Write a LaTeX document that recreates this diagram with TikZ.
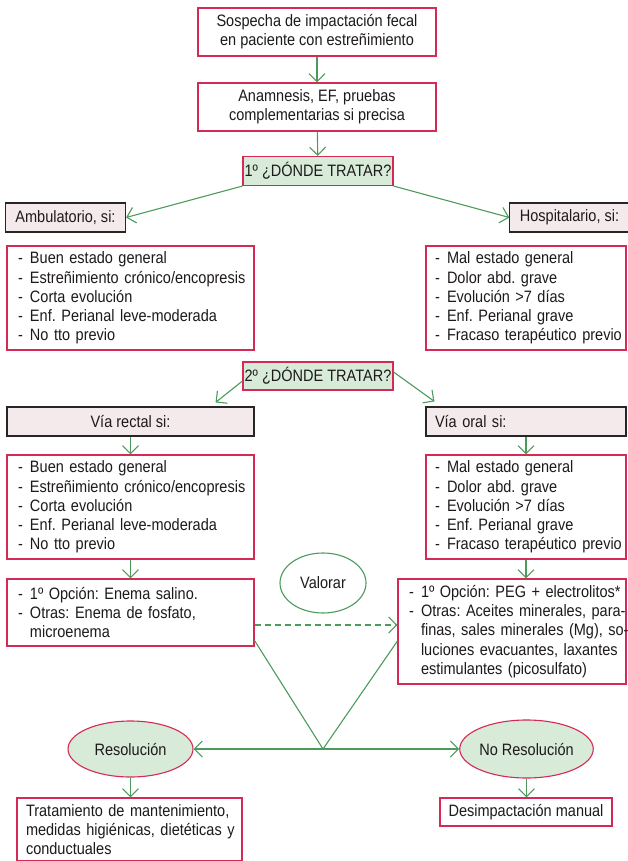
\documentclass[tikz,border=0pt]{standalone}
\usepackage{fontspec}
\setmainfont{Liberation Sans}[FakeStretch=0.88]
\usetikzlibrary{positioning,arrows.meta,shapes.geometric,calc}
\definecolor{algred}{HTML}{D42A55}
\definecolor{alggreen}{HTML}{4C9A5C}
\definecolor{alglight}{HTML}{D8EAD8}
\definecolor{algpink}{HTML}{F4E9EB}
\definecolor{algtext}{HTML}{1E1A1B}
\newcommand{\itm}[1]{\mbox{\makebox[12pt][l]{-}#1}}
\newcommand{\cont}[1]{\mbox{\hspace*{12pt}#1}}
\tikzset{
  cbox/.style={draw=algred, fill=white, line width=1.1pt, inner sep=0pt,
    align=center, text=algtext},
  lbox/.style={cbox, align=left, inner xsep=11pt, inner ysep=0pt},
  qbox/.style={draw=algred, fill=alglight, line width=1.1pt, inner sep=0pt,
    minimum width=150pt, minimum height=29pt, text=algtext},
  hbox/.style={draw=black!85, fill=algpink, line width=1.1pt, inner xsep=10pt,
    inner ysep=0pt, minimum height=29pt, text=algtext},
  oval/.style={ellipse, draw=algred, fill=alglight, line width=1.1pt,
    inner sep=0pt, text=algtext},
  flow/.style={-{Straight Barb[length=8pt,width=16pt]}, line width=1.1pt, draw=alggreen},
  link/.style={line width=1.1pt, draw=alggreen},
}

\begin{document}
\begin{tikzpicture}[x=1pt,y=-1pt,font=\fontsize{16.5}{19.2}\selectfont\frenchspacing]
  \useasboundingbox (0,0) rectangle (627,861);
  \node[cbox, minimum width=238pt, minimum height=48pt] (sosp) at (317,32)
    {Sospecha de impactación fecal\\en paciente con estreñimiento};
  \node[cbox, minimum width=238pt, minimum height=48pt] (anam) at (317,107)
    {Anamnesis, EF, pruebas\\complementarias si precisa};
  \node[qbox] (donde1) at (318,171) {1º ¿DÓNDE TRATAR?};
  \node[hbox, minimum width=117pt] (ambu) at (65.5,217.5) {Ambulatorio, si:};
  \node[hbox, minimum width=113pt] (hosp) at (569.5,217.5) {Hospitalario, si:};
  \node[lbox, text width=225pt, minimum height=104pt] (ambulist) at (130.5,298)
    {\itm{Buen estado general}\\ \itm{Estreñimiento crónico/encopresis}\\
     \itm{Corta evolución}\\ \itm{Enf. Perianal leve-moderada}\\ \itm{No tto previo}};
  \node[lbox, inner xsep=9pt, text width=182pt, minimum height=104pt] (hosplist) at (526,298)
    {\itm{Mal estado general}\\ \itm{Dolor abd. grave}\\ \itm{Evolución >7 días}\\
     \itm{Enf. Perianal grave}\\ \itm{Fracaso terapéutico previo}};
  \node[qbox, minimum height=28pt] (donde2) at (318,376) {2º ¿DÓNDE TRATAR?};
  \node[hbox, minimum width=247pt] (rect) at (130.5,421.5) {Vía rectal si:};
  \node[hbox, inner xsep=9pt, text width=182pt, align=left] (oral) at (526,421.5) {Vía oral si:};
  \node[lbox, text width=225pt, minimum height=104pt] (rectlist) at (130.5,507)
    {\itm{Buen estado general}\\ \itm{Estreñimiento crónico/encopresis}\\
     \itm{Corta evolución}\\ \itm{Enf. Perianal leve-moderada}\\ \itm{No tto previo}};
  \node[lbox, inner xsep=9pt, text width=182pt, minimum height=104pt] (orallist) at (526,507)
    {\itm{Mal estado general}\\ \itm{Dolor abd. grave}\\ \itm{Evolución >7 días}\\
     \itm{Enf. Perianal grave}\\ \itm{Fracaso terapéutico previo}};
  \node[lbox, text width=225pt, minimum height=67pt] (rectopt) at (130.5,612.5)
    {\itm{1º Opción: Enema salino.}\\ \itm{Otras: Enema de fosfato,}\\ \cont{microenema}};
  \node[lbox, text width=206pt, minimum height=105pt] (oralopt) at (512,631.5)
    {\itm{1º Opción: PEG + electrolitos*}\\ \itm{Otras: Aceites minerales, para-}\\
     \cont{finas, sales minerales (Mg), so-}\\ \cont{luciones evacuantes, laxantes}\\
     \cont{estimulantes (picosulfato)}};
  \node[oval, draw=alggreen, fill=white, minimum width=86pt, minimum height=60pt] (valorar)
    at (323,583) {Valorar};
  \node[oval, minimum width=125pt, minimum height=56pt] (resol) at (130.5,749) {Resolución};
  \node[oval, minimum width=123pt, minimum height=58pt] (noresol) at (526.5,749) {No Resolución};
  \node[lbox, inner xsep=9pt, text width=207pt, minimum height=63pt] (mant) at (129.5,829.5)
    {\mbox{Tratamiento de mantenimiento,}\\ \mbox{medidas higiénicas, dietéticas y}\\
     \mbox{conductuales}};
  \node[cbox, minimum width=172pt, minimum height=28pt] (desimp) at (526,812)
    {Desimpactación manual};
  \coordinate (vtip) at (323,749);
  \draw[flow] (sosp) -- (anam);
  \draw[flow] (anam) -- (donde1);
  \draw[flow] (donde1.south west) -- (ambu.east);
  \draw[flow] (donde1.south east) -- (hosp.west);
  \draw[flow] ([yshift=-5pt]donde2.west) -- ([xshift=-39pt,yshift=4pt]rect.north east);
  \draw[flow] ([yshift=4pt]donde2.east) -- ([xshift=9pt,yshift=5pt]oral.north west);
  \draw[flow] (rect) -- (rectlist);
  \draw[flow] (oral) -- (orallist);
  \draw[flow] (rectlist) -- (rectopt);
  \draw[flow] (orallist.south) -- (orallist.south |- oralopt.north);
  \draw[flow, dash pattern=on 6pt off 4pt] ([yshift=-12.5pt]rectopt.east)
    -- ([yshift=-12.5pt]rectopt.east -| oralopt.west);
  \draw[link] ([yshift=6pt]rectopt.south east) -- (vtip) -- ([yshift=-9.5pt]oralopt.west);
  \draw[flow] (vtip) -- (resol.east);
  \draw[flow] (vtip) -- (noresol.west);
  \draw[flow] (resol.south) -- (resol.south |- mant.north);
  \draw[flow] (noresol.south) -- (noresol.south |- desimp.north);
\end{tikzpicture}
\end{document}
